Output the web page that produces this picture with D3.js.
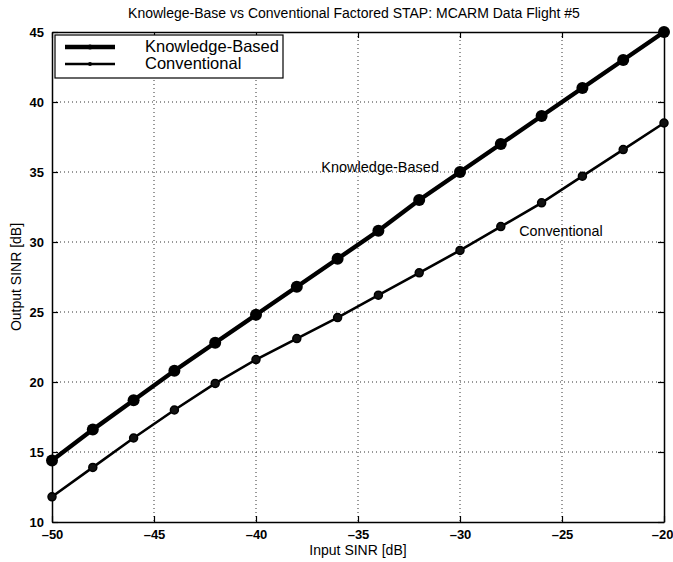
<!DOCTYPE html>
<html>
<head>
<meta charset="utf-8">
<script src="https://cdn.jsdelivr.net/npm/d3@7"></script>
<style>
  html, body { margin: 0; padding: 0; background: #fff; }
  svg { display: block; font-family: "Liberation Sans", Arial, Helvetica, sans-serif; }
</style>
</head>
<body>
<svg id="chart" width="673" height="562"></svg>
<script>
// Input SINR sweep (dB)
const inputSinr = [-50, -48, -46, -44, -42, -40, -38, -36, -34, -32, -30, -28, -26, -24, -22, -20];
// Output SINR (dB) for each processor
const knowledgeBased = [14.4, 16.6, 18.7, 20.8, 22.8, 24.8, 26.8, 28.8, 30.8, 33.0, 35.0, 37.0, 39.0, 41.0, 43.0, 45.0];
const conventional   = [11.8, 13.9, 16.0, 18.0, 19.9, 21.6, 23.1, 24.6, 26.2, 27.8, 29.4, 31.1, 32.8, 34.7, 36.6, 38.5];
const xTicks = [-50, -45, -40, -35, -30, -25, -20];
const yTicks = [10, 15, 20, 25, 30, 35, 40, 45];
const seriesNames = ["Knowledge-Based", "Conventional"];
const titleText = "Knowlege-Base vs Conventional Factored STAP: MCARM Data Flight #5";

const svg = d3.select("#chart");
const plotL = 52, plotR = 664, plotT = 32, plotB = 522;

const x = d3.scaleLinear().domain([-50, -20]).range([plotL, plotR]);
const y = d3.scaleLinear().domain([10, 45]).range([plotB, plotT]);

// dotted grid
const grid = svg.append("g").attr("stroke", "#333").attr("stroke-width", 1)
  .attr("stroke-dasharray", "1,3");
grid.selectAll("line.gx").data(xTicks.slice(1, -1)).join("line").attr("class", "gx")
  .attr("x1", d => x(d)).attr("x2", d => x(d)).attr("y1", plotT).attr("y2", plotB);
grid.selectAll("line.gy").data(yTicks.slice(1, -1)).join("line").attr("class", "gy")
  .attr("y1", d => y(d)).attr("y2", d => y(d)).attr("x1", plotL).attr("x2", plotR);

// axes with inward ticks (box style)
const tickLen = 6;
const axB = svg.append("g").attr("transform", `translate(0,${plotB})`)
  .call(d3.axisBottom(x).tickValues(xTicks).tickSizeInner(-tickLen).tickSizeOuter(0).tickPadding(8)
    .tickFormat(d => d < 0 ? "\u2013" + Math.abs(d) : d));
const axT = svg.append("g").attr("transform", `translate(0,${plotT})`)
  .call(d3.axisTop(x).tickValues(xTicks).tickSizeInner(-tickLen).tickSizeOuter(0).tickFormat(""));
const axL = svg.append("g").attr("transform", `translate(${plotL},0)`)
  .call(d3.axisLeft(y).tickValues(yTicks).tickSizeInner(-tickLen).tickSizeOuter(0).tickPadding(8));
const axR = svg.append("g").attr("transform", `translate(${plotR},0)`)
  .call(d3.axisRight(y).tickValues(yTicks).tickSizeInner(-tickLen).tickSizeOuter(0).tickFormat(""));

[axB, axT, axL, axR].forEach(g => {
  g.select(".domain").attr("stroke", "#000").attr("stroke-width", 1.5);
  g.selectAll(".tick line").attr("stroke", "#000").attr("stroke-width", 1.2);
  g.selectAll("text").attr("fill", "#000").attr("font-size", 13).attr("font-weight", "bold")
    .attr("font-family", "'Liberation Sans', Arial, sans-serif");
});
axB.selectAll("text").attr("dy", "0.71em");
// keep the last x label inside the page edge
axB.selectAll(".tick").filter(d => d === -20).select("text")
  .attr("text-anchor", "end").attr("x", 9);

// series
const line = d3.line().x(d => x(d[0])).y(d => y(d[1]));
const kbPts = inputSinr.map((v, i) => [v, knowledgeBased[i]]);
const cvPts = inputSinr.map((v, i) => [v, conventional[i]]);

svg.append("path").datum(cvPts).attr("d", line).attr("fill", "none")
  .attr("stroke", "#000").attr("stroke-width", 2.6);
svg.append("g").selectAll("circle").data(cvPts).join("circle")
  .attr("cx", d => x(d[0])).attr("cy", d => y(d[1])).attr("r", 4)
  .attr("fill", "#111").attr("stroke", "#000").attr("stroke-width", 1.5);

svg.append("path").datum(kbPts).attr("d", line).attr("fill", "none")
  .attr("stroke", "#000").attr("stroke-width", 4.4);
svg.append("g").selectAll("circle").data(kbPts).join("circle")
  .attr("cx", d => x(d[0])).attr("cy", d => y(d[1])).attr("r", 6)
  .attr("fill", "#000");

// in-plot labels
svg.append("text").attr("x", x(-36.8)).attr("y", y(35.0)).attr("font-size", 14.5)
  .text(seriesNames[0]);
svg.append("text").attr("x", x(-27.1)).attr("y", y(30.4)).attr("font-size", 14.3)
  .text(seriesNames[1]);

// legend
const lg = svg.append("g");
lg.append("rect").attr("x", 55).attr("y", 35).attr("width", 228).attr("height", 43)
  .attr("fill", "#fff").attr("stroke", "#000").attr("stroke-width", 1.2);
const legendRows = [
  { name: seriesNames[0], yy: 47, w: 4.4, r: 2.5 },
  { name: seriesNames[1], yy: 64, w: 2.6, r: 2 }
];
legendRows.forEach(r => {
  lg.append("line").attr("x1", 65).attr("x2", 115).attr("y1", r.yy).attr("y2", r.yy)
    .attr("stroke", "#000").attr("stroke-width", r.w);
  lg.append("circle").attr("cx", 90).attr("cy", r.yy).attr("r", r.r).attr("fill", "#000");
  lg.append("text").attr("x", 145).attr("y", r.yy + 5).attr("font-size", 16.5).text(r.name);
});

// title and axis labels
svg.append("text").attr("x", 354).attr("y", 18).attr("text-anchor", "middle")
  .attr("font-size", 14).text(titleText);
svg.append("text").attr("x", 358).attr("y", 555).attr("text-anchor", "middle")
  .attr("font-size", 14).text("Input SINR [dB]");
svg.append("text").attr("transform", `translate(21,${(plotT + plotB) / 2}) rotate(-90)`)
  .attr("text-anchor", "middle").attr("font-size", 14).text("Output SINR [dB]");
</script>
</body>
</html>
